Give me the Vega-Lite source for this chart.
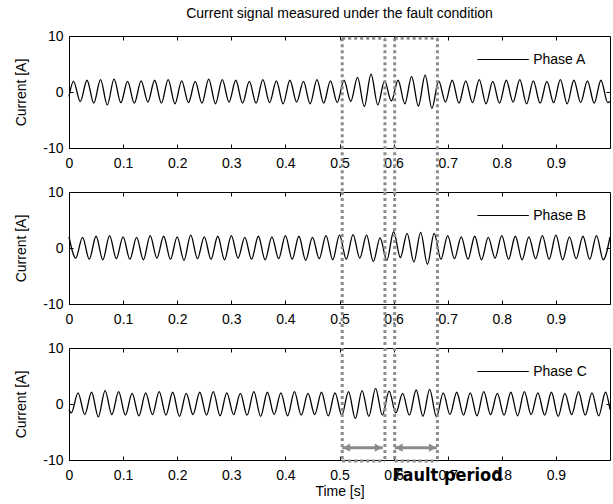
{
  "$schema": "https://vega.github.io/schema/vega-lite/v6.json",
  "padding": {"left": 14, "top": 6, "right": 2, "bottom": 2},
  "background": "white",
  "bounds": "flush",
  "spacing": 44,
  "config": {
    "font": "Liberation Sans",
    "view": {"stroke": "black", "strokeWidth": 1},
    "axis": {"grid": false, "domainColor": "black", "tickColor": "black", "labelColor": "black", "titleColor": "black", "labelFontSize": 14, "titleFontSize": 14, "titleFontWeight": "normal", "labelFont": "Liberation Sans", "titleFont": "Liberation Sans"}
  },
  "datasets": {
    "A": [
      {"t":0,"v":-0.8},
      {"t":0.0083,"v":1.9},{"t":0.0208,"v":-1.7},
      {"t":0.0333,"v":2.1},{"t":0.0458,"v":-2.0},
      {"t":0.0583,"v":2.2},{"t":0.0708,"v":-2.3},
      {"t":0.0833,"v":2.3},{"t":0.0958,"v":-1.9},
      {"t":0.1083,"v":1.9},{"t":0.1208,"v":-2.0},
      {"t":0.1333,"v":2.0},{"t":0.1458,"v":-1.8},
      {"t":0.1583,"v":2.1},{"t":0.1708,"v":-2.0},
      {"t":0.1833,"v":2.2},{"t":0.1958,"v":-2.1},
      {"t":0.2083,"v":2.0},{"t":0.2208,"v":-1.9},
      {"t":0.2333,"v":1.9},{"t":0.2458,"v":-2.0},
      {"t":0.2583,"v":2.3},{"t":0.2708,"v":-2.1},
      {"t":0.2833,"v":2.2},{"t":0.2958,"v":-1.8},
      {"t":0.3083,"v":2.1},{"t":0.3208,"v":-2.0},
      {"t":0.3333,"v":1.9},{"t":0.3458,"v":-2.0},
      {"t":0.3583,"v":2.2},{"t":0.3708,"v":-1.9},
      {"t":0.3833,"v":2.0},{"t":0.3958,"v":-2.1},
      {"t":0.4083,"v":2.1},{"t":0.4208,"v":-1.8},
      {"t":0.4333,"v":1.9},{"t":0.4458,"v":-2.1},
      {"t":0.4583,"v":2.2},{"t":0.4708,"v":-2.0},
      {"t":0.4833,"v":2.0},{"t":0.4958,"v":-1.9},
      {"t":0.5083,"v":2.1},{"t":0.5208,"v":-1.7},
      {"t":0.5333,"v":2.6},{"t":0.5458,"v":-2.6},
      {"t":0.5583,"v":3.2},{"t":0.5708,"v":-2.3},
      {"t":0.5833,"v":2.0},{"t":0.5958,"v":-1.6},
      {"t":0.6083,"v":2.1},{"t":0.6208,"v":-2.1},
      {"t":0.6333,"v":2.8},{"t":0.6458,"v":-2.5},
      {"t":0.6583,"v":3.0},{"t":0.6708,"v":-2.9},
      {"t":0.6833,"v":2.0},{"t":0.6958,"v":-1.8},
      {"t":0.7083,"v":2.1},{"t":0.7208,"v":-2.0},
      {"t":0.7333,"v":2.0},{"t":0.7458,"v":-1.9},
      {"t":0.7583,"v":2.2},{"t":0.7708,"v":-2.1},
      {"t":0.7833,"v":1.9},{"t":0.7958,"v":-2.0},
      {"t":0.8083,"v":2.1},{"t":0.8208,"v":-1.8},
      {"t":0.8333,"v":2.2},{"t":0.8458,"v":-2.1},
      {"t":0.8583,"v":2.0},{"t":0.8708,"v":-2.0},
      {"t":0.8833,"v":1.9},{"t":0.8958,"v":-1.9},
      {"t":0.9083,"v":2.2},{"t":0.9208,"v":-2.1},
      {"t":0.9333,"v":2.1},{"t":0.9458,"v":-1.9},
      {"t":0.9583,"v":2.0},{"t":0.9708,"v":-2.0},
      {"t":0.9833,"v":2.1},{"t":0.9958,"v":-1.9},
      {"t":1.0,"v":-1.7}
    ],
    "B": [
      {"t":0.0,"v":2.0},{"t":0.0125,"v":-1.8},
      {"t":0.025,"v":1.9},{"t":0.0375,"v":-2.0},
      {"t":0.05,"v":2.1},{"t":0.0625,"v":-2.1},
      {"t":0.075,"v":2.2},{"t":0.0875,"v":-1.9},
      {"t":0.1,"v":2.0},{"t":0.1125,"v":-2.0},
      {"t":0.125,"v":1.9},{"t":0.1375,"v":-2.1},
      {"t":0.15,"v":2.2},{"t":0.1625,"v":-1.8},
      {"t":0.175,"v":2.1},{"t":0.1875,"v":-2.0},
      {"t":0.2,"v":2.0},{"t":0.2125,"v":-2.2},
      {"t":0.225,"v":2.3},{"t":0.2375,"v":-1.9},
      {"t":0.25,"v":2.0},{"t":0.2625,"v":-2.0},
      {"t":0.275,"v":2.1},{"t":0.2875,"v":-2.1},
      {"t":0.3,"v":2.2},{"t":0.3125,"v":-1.8},
      {"t":0.325,"v":1.9},{"t":0.3375,"v":-2.0},
      {"t":0.35,"v":2.1},{"t":0.3625,"v":-2.1},
      {"t":0.375,"v":2.0},{"t":0.3875,"v":-1.9},
      {"t":0.4,"v":2.2},{"t":0.4125,"v":-2.0},
      {"t":0.425,"v":2.1},{"t":0.4375,"v":-2.2},
      {"t":0.45,"v":1.9},{"t":0.4625,"v":-1.9},
      {"t":0.475,"v":2.2},{"t":0.4875,"v":-2.1},
      {"t":0.5,"v":2.3},{"t":0.5125,"v":-2.0},
      {"t":0.525,"v":2.4},{"t":0.5375,"v":-1.8},
      {"t":0.55,"v":2.3},{"t":0.5625,"v":-2.4},
      {"t":0.575,"v":1.8},{"t":0.5875,"v":-2.2},
      {"t":0.6,"v":2.9},{"t":0.6125,"v":-1.7},
      {"t":0.625,"v":2.6},{"t":0.6375,"v":-2.5},
      {"t":0.65,"v":2.8},{"t":0.6625,"v":-2.9},
      {"t":0.675,"v":2.6},{"t":0.6875,"v":-2.0},
      {"t":0.7,"v":2.2},{"t":0.7125,"v":-1.9},
      {"t":0.725,"v":2.0},{"t":0.7375,"v":-2.0},
      {"t":0.75,"v":2.1},{"t":0.7625,"v":-2.1},
      {"t":0.775,"v":1.9},{"t":0.7875,"v":-1.8},
      {"t":0.8,"v":2.2},{"t":0.8125,"v":-2.0},
      {"t":0.825,"v":2.1},{"t":0.8375,"v":-2.1},
      {"t":0.85,"v":2.0},{"t":0.8625,"v":-1.9},
      {"t":0.875,"v":2.2},{"t":0.8875,"v":-2.0},
      {"t":0.9,"v":2.3},{"t":0.9125,"v":-2.1},
      {"t":0.925,"v":2.0},{"t":0.9375,"v":-1.9},
      {"t":0.95,"v":2.1},{"t":0.9625,"v":-2.0},
      {"t":0.975,"v":2.2},{"t":0.9875,"v":-2.1},
      {"t":1.0,"v":2.0}
    ],
    "C": [
      {"t":0,"v":-1.0},
      {"t":0.0042,"v":-1.6},{"t":0.0167,"v":2.0},
      {"t":0.0292,"v":-1.9},{"t":0.0417,"v":2.1},
      {"t":0.0542,"v":-2.3},{"t":0.0667,"v":2.4},
      {"t":0.0792,"v":-1.9},{"t":0.0917,"v":2.2},
      {"t":0.1042,"v":-2.0},{"t":0.1167,"v":1.9},
      {"t":0.1292,"v":-2.1},{"t":0.1417,"v":2.0},
      {"t":0.1542,"v":-1.9},{"t":0.1667,"v":2.2},
      {"t":0.1792,"v":-2.0},{"t":0.1917,"v":2.1},
      {"t":0.2042,"v":-2.2},{"t":0.2167,"v":1.9},
      {"t":0.2292,"v":-1.9},{"t":0.2417,"v":2.1},
      {"t":0.2542,"v":-2.0},{"t":0.2667,"v":2.2},
      {"t":0.2792,"v":-2.1},{"t":0.2917,"v":2.0},
      {"t":0.3042,"v":-1.9},{"t":0.3167,"v":1.9},
      {"t":0.3292,"v":-2.0},{"t":0.3417,"v":2.2},
      {"t":0.3542,"v":-2.2},{"t":0.3667,"v":2.1},
      {"t":0.3792,"v":-1.9},{"t":0.3917,"v":2.0},
      {"t":0.4042,"v":-2.1},{"t":0.4167,"v":2.2},
      {"t":0.4292,"v":-2.0},{"t":0.4417,"v":1.9},
      {"t":0.4542,"v":-1.9},{"t":0.4667,"v":2.1},
      {"t":0.4792,"v":-2.1},{"t":0.4917,"v":2.0},
      {"t":0.5042,"v":-2.0},{"t":0.5167,"v":2.2},
      {"t":0.5292,"v":-2.6},{"t":0.5417,"v":2.4},
      {"t":0.5542,"v":-2.2},{"t":0.5667,"v":2.8},
      {"t":0.5792,"v":-2.0},{"t":0.5917,"v":2.3},
      {"t":0.6042,"v":-1.6},{"t":0.6167,"v":1.9},
      {"t":0.6292,"v":-2.0},{"t":0.6417,"v":2.5},
      {"t":0.6542,"v":-2.2},{"t":0.6667,"v":2.6},
      {"t":0.6792,"v":-2.3},{"t":0.6917,"v":2.0},
      {"t":0.7042,"v":-1.9},{"t":0.7167,"v":2.1},
      {"t":0.7292,"v":-2.0},{"t":0.7417,"v":2.0},
      {"t":0.7542,"v":-2.1},{"t":0.7667,"v":2.2},
      {"t":0.7792,"v":-1.9},{"t":0.7917,"v":1.9},
      {"t":0.8042,"v":-2.0},{"t":0.8167,"v":2.1},
      {"t":0.8292,"v":-2.1},{"t":0.8417,"v":2.2},
      {"t":0.8542,"v":-1.9},{"t":0.8667,"v":2.0},
      {"t":0.8792,"v":-2.0},{"t":0.8917,"v":2.1},
      {"t":0.9042,"v":-2.2},{"t":0.9167,"v":1.9},
      {"t":0.9292,"v":-1.9},{"t":0.9417,"v":2.2},
      {"t":0.9542,"v":-2.0},{"t":0.9667,"v":2.0},
      {"t":0.9792,"v":-2.1},{"t":0.9917,"v":2.1},
      {"t":1.0,"v":-1.0}
    ],
    "vlines": [{"x":0.505},{"x":0.584},{"x":0.602},{"x":0.681}],
    "hlines": [{"x":0.505,"x2":0.584},{"x":0.602,"x2":0.681}]
  },
  "vconcat": [
    {
      "width": 541, "height": 112,
      "title": {"text": "Current signal measured under the fault condition", "fontSize": 14, "fontWeight": "normal", "frame": "group", "anchor": "middle", "offset": 8, "font": "Liberation Sans"},
      "resolve": {"axis": {"x": "independent", "y": "independent"}},
      "layer": [
        {
          "data": {"name": "A"},
          "mark": {"type": "line", "interpolate": "monotone", "color": "black", "strokeWidth": 1.3},
          "encoding": {
            "x": {"field": "t", "type": "quantitative", "scale": {"domain": [0, 1], "nice": false}, "axis": {"orient": "bottom", "values": [0,0.1,0.2,0.3,0.4,0.5,0.6,0.7,0.8,0.9], "tickSize": -4, "labelPadding": 12, "title": null, "labelFlush": false, "labelExpr": "'' + datum.value"}},
            "y": {"field": "v", "type": "quantitative", "scale": {"domain": [-10, 10], "nice": false}, "axis": {"orient": "left", "values": [-10,0,10], "tickSize": -4, "labelPadding": 10, "title": "Current [A]", "titlePadding": 14, "labelExpr": "'' + datum.value"}}
          }
        },
        {
          "data": {"name": "vlines"},
          "mark": {"type": "rule", "color": "#8c8c8c", "strokeWidth": 3, "strokeDash": [3, 3]},
          "encoding": {"x": {"field": "x", "type": "quantitative", "axis": {"orient": "top", "values": [0,0.1,0.2,0.3,0.4,0.5,0.6,0.7,0.8,0.9], "labels": false, "domain": false, "tickSize": -4, "title": null}}, "y": {"datum": 9.6, "axis": {"orient": "right", "values": [0], "labels": false, "domain": false, "tickSize": -4, "title": null}}, "y2": {"datum": -17.86}}
        },
        {
          "data": {"name": "hlines"},
          "mark": {"type": "rule", "color": "#8c8c8c", "strokeWidth": 3, "strokeDash": [3, 3]},
          "encoding": {"x": {"field": "x", "type": "quantitative", "axis": null}, "x2": {"field": "x2"}, "y": {"datum": 9.6, "axis": null}}
        },
        {
          "data": {"values": [{"t": 0.755, "t2": 0.85, "v": 5.8}]},
          "mark": {"type": "rule", "color": "black", "strokeWidth": 1},
          "encoding": {"x": {"field": "t", "type": "quantitative", "axis": null}, "x2": {"field": "t2"}, "y": {"field": "v", "type": "quantitative", "axis": null}}
        },
        {
          "data": {"values": [{"t": 0.858, "v": 5.8, "label": "Phase A"}]},
          "mark": {"type": "text", "align": "left", "baseline": "middle", "fontSize": 14, "color": "black", "font": "Liberation Sans"},
          "encoding": {"x": {"field": "t", "type": "quantitative", "axis": null}, "y": {"field": "v", "type": "quantitative", "axis": null}, "text": {"field": "label"}}
        }
      ]
    },
    {
      "width": 541, "height": 112,
      "resolve": {"axis": {"x": "independent", "y": "independent"}},
      "layer": [
        {
          "data": {"name": "B"},
          "mark": {"type": "line", "interpolate": "monotone", "color": "black", "strokeWidth": 1.3},
          "encoding": {
            "x": {"field": "t", "type": "quantitative", "scale": {"domain": [0, 1], "nice": false}, "axis": {"orient": "bottom", "values": [0,0.1,0.2,0.3,0.4,0.5,0.6,0.7,0.8,0.9], "tickSize": -4, "labelPadding": 12, "title": null, "labelFlush": false, "labelExpr": "'' + datum.value"}},
            "y": {"field": "v", "type": "quantitative", "scale": {"domain": [-10, 10], "nice": false}, "axis": {"orient": "left", "values": [-10,0,10], "tickSize": -4, "labelPadding": 10, "title": "Current [A]", "titlePadding": 14, "labelExpr": "'' + datum.value"}}
          }
        },
        {
          "data": {"name": "vlines"},
          "mark": {"type": "rule", "color": "#8c8c8c", "strokeWidth": 3, "strokeDash": [3, 3]},
          "encoding": {"x": {"field": "x", "type": "quantitative", "axis": {"orient": "top", "values": [0,0.1,0.2,0.3,0.4,0.5,0.6,0.7,0.8,0.9], "labels": false, "domain": false, "tickSize": -4, "title": null}}, "y": {"datum": 10, "axis": {"orient": "right", "values": [0], "labels": false, "domain": false, "tickSize": -4, "title": null}}, "y2": {"datum": -17.86}}
        },
        {
          "data": {"values": [{"t": 0.755, "t2": 0.85, "v": 5.8}]},
          "mark": {"type": "rule", "color": "black", "strokeWidth": 1},
          "encoding": {"x": {"field": "t", "type": "quantitative", "axis": null}, "x2": {"field": "t2"}, "y": {"field": "v", "type": "quantitative", "axis": null}}
        },
        {
          "data": {"values": [{"t": 0.858, "v": 5.8, "label": "Phase B"}]},
          "mark": {"type": "text", "align": "left", "baseline": "middle", "fontSize": 14, "color": "black", "font": "Liberation Sans"},
          "encoding": {"x": {"field": "t", "type": "quantitative", "axis": null}, "y": {"field": "v", "type": "quantitative", "axis": null}, "text": {"field": "label"}}
        }
      ]
    },
    {
      "width": 541, "height": 112,
      "resolve": {"axis": {"x": "independent", "y": "independent"}},
      "layer": [
        {
          "data": {"name": "C"},
          "mark": {"type": "line", "interpolate": "monotone", "color": "black", "strokeWidth": 1.3},
          "encoding": {
            "x": {"field": "t", "type": "quantitative", "scale": {"domain": [0, 1], "nice": false}, "axis": {"orient": "bottom", "values": [0,0.1,0.2,0.3,0.4,0.5,0.6,0.7,0.8,0.9], "tickSize": -4, "labelPadding": 12, "title": "Time [s]", "titlePadding": 2, "labelFlush": false, "labelExpr": "'' + datum.value"}},
            "y": {"field": "v", "type": "quantitative", "scale": {"domain": [-10, 10], "nice": false}, "axis": {"orient": "left", "values": [-10,0,10], "tickSize": -4, "labelPadding": 10, "title": "Current [A]", "titlePadding": 14, "labelExpr": "'' + datum.value"}}
          }
        },
        {
          "data": {"name": "vlines"},
          "mark": {"type": "rule", "color": "#8c8c8c", "strokeWidth": 3, "strokeDash": [3, 3]},
          "encoding": {"x": {"field": "x", "type": "quantitative", "axis": {"orient": "top", "values": [0,0.1,0.2,0.3,0.4,0.5,0.6,0.7,0.8,0.9], "labels": false, "domain": false, "tickSize": -4, "title": null}}, "y": {"datum": 10, "axis": {"orient": "right", "values": [0], "labels": false, "domain": false, "tickSize": -4, "title": null}}, "y2": {"datum": -10.2}}
        },
        {
          "data": {"name": "hlines"},
          "mark": {"type": "rule", "color": "#8c8c8c", "strokeWidth": 3, "strokeDash": [3, 3]},
          "encoding": {"x": {"field": "x", "type": "quantitative", "axis": null}, "x2": {"field": "x2"}, "y": {"datum": -10.2, "axis": null}}
        },
        {
          "data": {"values": [{"a": 0.505, "b": 0.58}, {"a": 0.602, "b": 0.68}]},
          "mark": {"type": "rule", "color": "#8c8c8c", "strokeWidth": 3},
          "encoding": {"x": {"field": "a", "type": "quantitative", "axis": null}, "x2": {"field": "b"}, "y": {"datum": -7.8, "axis": null}}
        },
        {
          "data": {"values": [{"x": 0.513, "s": "triangle-left"}, {"x": 0.572, "s": "triangle-right"}, {"x": 0.61, "s": "triangle-left"}, {"x": 0.672, "s": "triangle-right"}]},
          "mark": {"type": "point", "filled": true, "color": "#8c8c8c", "opacity": 1, "size": 70},
          "encoding": {"x": {"field": "x", "type": "quantitative", "axis": null}, "y": {"datum": -7.8, "axis": null}, "shape": {"field": "s", "type": "nominal", "scale": null}}
        },
        {
          "data": {"values": [{"t": 0.755, "t2": 0.85, "v": 5.8}]},
          "mark": {"type": "rule", "color": "black", "strokeWidth": 1},
          "encoding": {"x": {"field": "t", "type": "quantitative", "axis": null}, "x2": {"field": "t2"}, "y": {"field": "v", "type": "quantitative", "axis": null}}
        },
        {
          "data": {"values": [{"t": 0.858, "v": 5.8, "label": "Phase C"}]},
          "mark": {"type": "text", "align": "left", "baseline": "middle", "fontSize": 14, "color": "black", "font": "Liberation Sans"},
          "encoding": {"x": {"field": "t", "type": "quantitative", "axis": null}, "y": {"field": "v", "type": "quantitative", "axis": null}, "text": {"field": "label"}}
        },
        {
          "data": {"values": [{"t": 0.70, "v": -12.9, "label": "Fault period"}]},
          "mark": {"type": "text", "align": "center", "baseline": "middle", "fontSize": 18, "fontWeight": "bold", "color": "black", "font": "DejaVu Sans Condensed"},
          "encoding": {"x": {"field": "t", "type": "quantitative", "axis": null}, "y": {"field": "v", "type": "quantitative", "axis": null}, "text": {"field": "label"}}
        }
      ]
    }
  ]
}
